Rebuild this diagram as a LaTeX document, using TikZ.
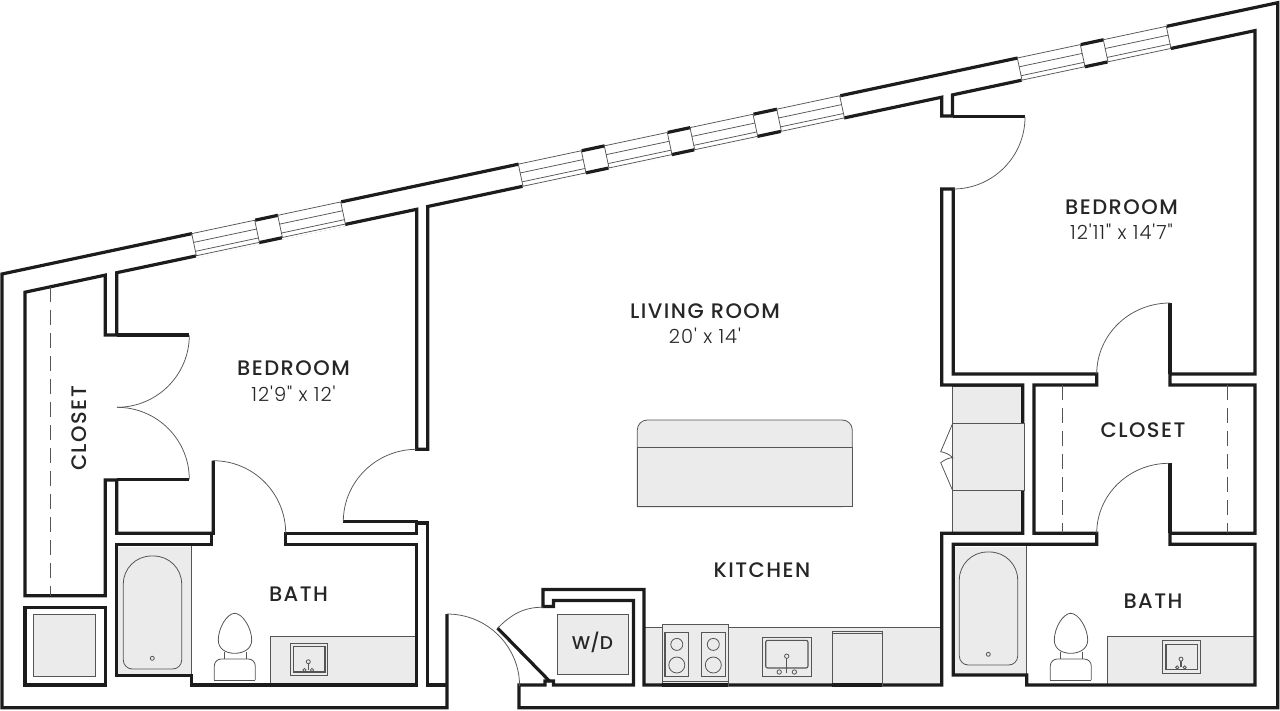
\documentclass[tikz,border=0pt]{standalone}
\usepackage{fontspec}
\usetikzlibrary{calc}
\newfontfamily\planfont[LetterSpace=7]{Poppins Medium}
\newfontfamily\sizefont[LetterSpace=5]{Poppins Light}
\newfontfamily\unitfont{Poppins Medium}
\definecolor{wallink}{HTML}{1C1C1C}
\definecolor{fixgray}{HTML}{EBEBEB}
\definecolor{fixline}{HTML}{555555}
\definecolor{labelink}{HTML}{262626}
\tikzset{
  wall/.style={line width=3.2pt,draw=wallink,line join=miter},
  thinline/.style={line width=0.75pt,draw=wallink!75},
  fixture/.style={line width=0.8pt,draw=fixline,fill=fixgray},
  runline/.style={line width=0.8pt,draw=fixline},
  shelfline/.style={line width=0.8pt,draw=fixline,dash pattern=on 15pt off 8pt},
  roomlabel/.style={font=\planfont\fontsize{21}{24}\selectfont,text=labelink,inner sep=0pt},
  dimlabel/.style={font=\sizefont\fontsize{19.5}{22}\selectfont,text=labelink,inner sep=0pt},
}
\newcommand{\swing}[3]{\draw[thinline] (#1) .. controls ($(#1)!.5523!(#2)$) and ($(#3)!.5523!(#2)$) .. (#3);}
\newcommand{\tubfix}[2]{
  \begin{scope}[shift={(#1,#2)}]
    \draw[fixture,rounded corners=9pt] (152.5,669) -- (123.3,669) [rounded corners=28pt] -- (123.3,556) -- (181.7,556) [rounded corners=9pt] -- (181.7,669) -- cycle;
    \draw[runline] (152.3,658.3) circle (2);
  \end{scope}}
\newcommand{\toiletfix}[2]{
  \begin{scope}[shift={(#1,#2)}]
    \draw[runline] (234.7,613.3) .. controls (227,613.3) and (218.3,628) .. (218.3,640) .. controls (218.3,649) and (226,653.3) .. (234.7,653.3) .. controls (243.4,653.3) and (251.7,649) .. (251.7,640) .. controls (251.7,628) and (242.4,613.3) .. (234.7,613.3) -- cycle;
    \draw[runline] (224,652) -- (224,659) (246,652) -- (246,659);
    \draw[runline,rounded corners=7pt] (214.3,680) -- (214.3,659) -- (255.3,659) -- (255.3,680);
    \draw[runline] (214.3,680) -- (255.3,680);
  \end{scope}}
\newcommand{\basinfix}[2]{
  \begin{scope}[shift={(#1,#2)}]
    \draw[runline] (290,643.3) rectangle (327.7,675.7);
    \draw[line width=1.1pt,draw=fixline] (293.3,646.7) rectangle (325,672);
    \draw[line width=1.4pt,draw=fixline] (308.3,661.7) -- (308.3,670);
    \draw[runline,fill=fixgray] (308.3,661.7) circle (2);
    \draw[runline] (304.5,670) circle (1.6) (312,670) circle (1.6);
  \end{scope}}
\begin{document}
\begin{tikzpicture}[x=1pt,y=-1pt]
  \useasboundingbox (0,0) rectangle (1280,710);
  \fill[fixgray] (118.3,546.7) rectangle (191.7,675);
  \draw[runline] (191.7,546) -- (191.7,675);
  \fill[fixgray] (955,546.7) rectangle (1026.7,675);
  \draw[runline] (1026.7,546) -- (1026.7,675);
  \draw[fixture] (270.7,684) -- (270.7,636) -- (416,636) -- (416,684) -- cycle;
  \draw[fixture] (1107.7,684) -- (1107.7,636) -- (1255,636) -- (1255,684) -- cycle;
  \draw[fixture] (644,685) -- (644,627.5) -- (941.7,627.5) -- (941.7,685) -- cycle;
  \draw[fixture] (952.7,386) rectangle (1022.7,533);
  \draw[fixture] (33,614.7) rectangle (95,676);
  \draw[fixture] (557.4,614) rectangle (628.4,674);
  \draw[fixture,rounded corners=10pt] (637.3,506.7) -- (637.3,420) -- (852.3,420) -- (852.3,506.7) [sharp corners] -- cycle;
  \draw[fixture] (637.3,506.7) rectangle (852.3,447.7);

  \draw[wall] (447,614) -- (447,707.7) -- (2,707.7) -- (2,274) -- (1277.7,2.7) -- (1277.7,707.7) -- (519,707.7) -- (519,685) -- (545,685) -- (545,681) -- (553.5,681) -- (553.5,685) -- (633.5,685) -- (633.5,600.5) -- (553.5,600.5) -- (553.5,606.5) -- (543,606.5) -- (543,589.5) -- (644,589.5) -- (644,685) -- (941.7,685) -- (941.7,533.3) -- (1022.7,533.3) -- (1022.7,385) -- (941.7,385) -- (941.7,189) -- (953.3,189) -- (953.3,374) -- (1096.7,374) -- (1096.7,385) -- (1034,385) -- (1034,533.3) -- (1096.7,533.3) -- (1096.7,544.3) -- (953.3,544.3) -- (953.3,675) -- (1026.7,675) -- (1026.7,685) -- (1255,685) -- (1255,544.3) -- (1170,544.3) -- (1170,533.3) -- (1255,533.3) -- (1255,385) -- (1170,385) -- (1170,374) -- (1255,374) -- (1255,30.6) -- (952.5,94.9) -- (952.5,116) -- (941.7,116) -- (941.7,97.2) -- (427.7,206.5) -- (427.7,449.3) -- (416.7,449.3) -- (416.7,209.3) -- (116.7,272.7) -- (116.7,335) -- (105.3,335) -- (105.3,275.1) -- (25,292.2) -- (25,595.7) -- (105.3,595.7) -- (105.3,480) -- (116.7,480) -- (116.7,533.3) -- (213.3,533.3) -- (213.3,460.7);
  \draw[wall] (343.3,521.7) -- (416.7,521.7) -- (416.7,533.3) -- (285.7,533.3) -- (285.7,544.7) -- (416.7,544.7) -- (416.7,685) -- (191.7,685) -- (191.7,675.7) -- (116.7,675.7) -- (116.7,544.7) -- (211.3,544.7) -- (211.3,533.3);
  \draw[wall] (416.7,523) -- (427.7,523) -- (427.7,685) -- (447,685);
  \draw[wall] (25,607.3) rectangle (105.3,685);
  \draw[wall] (116.7,335) -- (189.3,335);
  \draw[wall] (116.7,479.3) -- (189.3,479.3);
  \draw[wall] (952.5,116.5) -- (1025,116.5);
  \draw[wall] (1170,374) -- (1170,303);
  \draw[wall] (1170,533.3) -- (1170,463);
  \draw[wall] (497.6,628.1) -- (550,681.6);

  \foreach \wx in {191.7,277.7,518.3,604.3,690,776.7,1017.3,1103.3} {
    \begin{scope}[shift={(\wx,{274.4-.2127*\wx})}]
      \fill[white] (0,-2.2) -- (63,-15.6) -- (67.7,10.9) -- (4.7,24.3) -- cycle;
      \draw[thinline] (0,0) -- (63,-13.4) -- (67.7,8.7) -- (4.7,22.1) -- cycle;
      \draw[thinline] (1.9,8.8) -- (64.9,-4.6);
      \draw[thinline] (3.8,17.7) -- (66.8,4.3);
    \end{scope}
  }

  \fill[fixgray] (953.1,423.3) rectangle (1024.6,490.8);
  \draw[runline] (952.7,423.3) -- (1024.6,423.3) (952.7,490.8) -- (1024.6,490.8) (1024.6,423.3) -- (1024.6,490.8) (952.7,423.3) -- (952.7,490.8);
  \draw[runline] (952.7,423.3) -- (940.7,451.7) .. controls (945,452.5) and (949,454) .. (952.7,457.7) .. controls (949,457.7) and (945,459.5) .. (940.7,462.7) -- (952.7,490.7);

  \swing{189.3,335.3}{189.3,407.3}{117,407.3}
  \swing{117,407.3}{189.3,407.3}{189.3,479.3}
  \swing{213.3,460.7}{285.7,460.7}{285.7,533.3}
  \swing{416.7,449.3}{343.3,449.3}{343.3,521.7}
  \swing{447,614}{519.6,614}{519.6,686}
  \swing{1025,117}{1025,189}{953,189}
  \swing{1096.7,374}{1096.7,303}{1170,303}
  \swing{1096.7,533.3}{1096.7,463.3}{1169,463.3}
  \draw[thinline] (497.6,628.1) .. controls (511.7,614.2) and (523.4,607.2) .. (543.3,607.2);

  \draw[shelfline] (50.7,287) -- (50.7,595.7);
  \draw[shelfline] (1062.7,385) -- (1062.7,533.3);
  \draw[shelfline] (1227.7,385) -- (1227.7,533.3);

  \tubfix{0}{0}
  \tubfix{836}{-4}
  \toiletfix{0}{0}
  \toiletfix{836}{0}
  \basinfix{0}{0}
  \basinfix{872.7}{-2.6}

  \draw[fixture] (662,624.8) rectangle (728,685);
  \draw[runline] (662,680.9) -- (728,680.9);
  \draw[line width=1.1pt,draw=fixline] (665,632.5) rectangle (688.6,676.5);
  \draw[line width=1.1pt,draw=fixline] (701.5,632.5) rectangle (725.8,676.5);
  \foreach \bx in {676.8,713.3} {
    \draw[runline] (\bx,644.4) circle (6);
    \draw[runline] (\bx,665) circle (8);
  }
  \draw[runline] (762.7,637.6) rectangle (811,676.8);
  \draw[line width=1.1pt,draw=fixline,rounded corners=2pt] (765.7,640.3) rectangle (808,668);
  \draw[line width=1.4pt,draw=fixline] (786.7,656.2) -- (786.7,673);
  \draw[runline,fill=fixgray] (786.7,656.2) circle (2.2);
  \draw[runline] (779.2,672) circle (2.2) (794.4,672) circle (2.2);
  \draw[fixture] (832.3,630.9) rectangle (882.3,685);
  \draw[runline] (832.3,633.6) -- (882.3,633.6);
  \draw[wall] (662,685) -- (728,685);
  \draw[wall] (832.3,685) -- (882.3,685);

  \node[roomlabel] (bedroomleft) at (293.5,368.5) {BEDROOM};
  \node[dimlabel] (bedroomleftsize) at (293.5,393.5) {12'9" x 12'};
  \node[roomlabel] (living) at (705,311) {LIVING ROOM};
  \node[dimlabel] (livingsize) at (705,336) {20' x 14'};
  \node[roomlabel] (kitchen) at (762,570.5) {KITCHEN};
  \node[roomlabel] (bathleft) at (298.5,594) {BATH};
  \node[roomlabel] (bathright) at (1153,601) {BATH};
  \node[roomlabel] (closetright) at (1143,430.5) {CLOSET};
  \node[roomlabel,rotate=90] (closetleft) at (79,428.5) {CLOSET};
  \node[roomlabel] (bedroomright) at (1121.5,207) {BEDROOM};
  \node[dimlabel] (bedroomrightsize) at (1121.5,232) {12'11" x 14'7"};
  \node[dimlabel,font=\unitfont\fontsize{18.5}{20}\selectfont] (washer) at (592.5,642.5) {W/D};
\end{tikzpicture}
\end{document}
